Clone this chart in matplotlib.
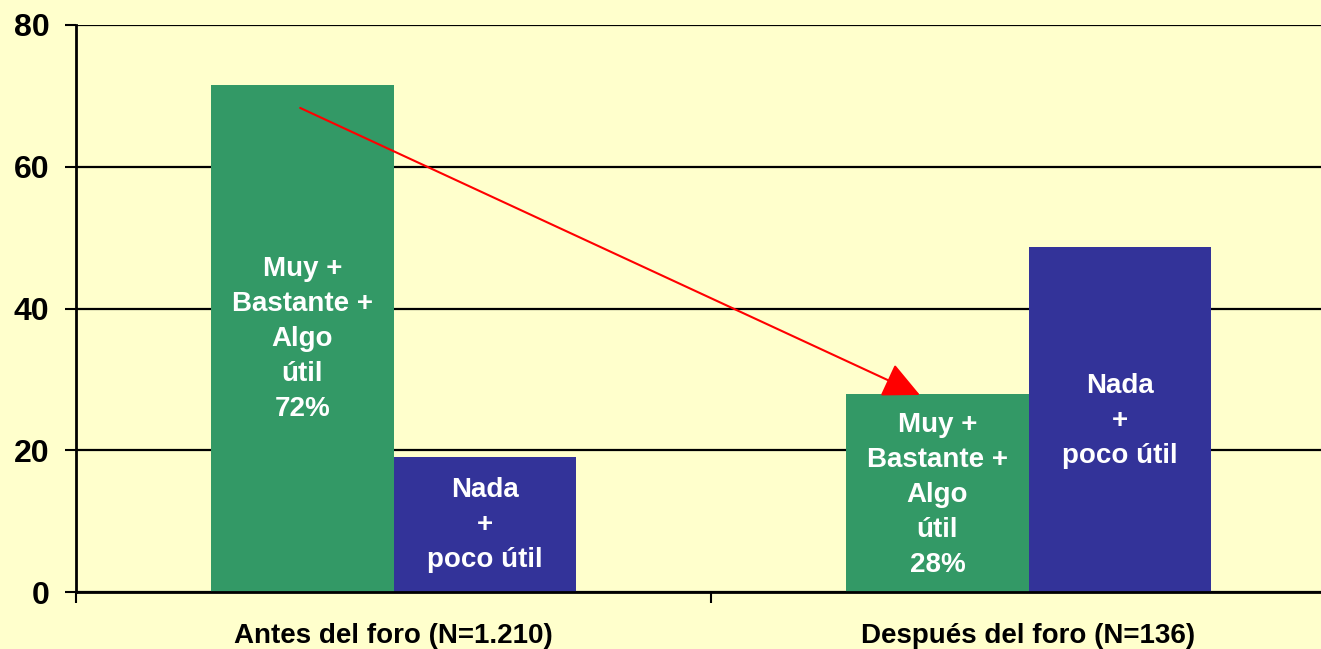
import matplotlib
matplotlib.use("Agg")
import matplotlib.pyplot as plt
import numpy as np

plt.rcParams['font.family'] = ['Liberation Sans', 'DejaVu Sans']

categories = ["Antes del foro (N=1.210)", "Después del foro (N=136)"]
util_values = [71.5, 28.0]
nada_values = [19.0, 48.7]
util_labels = ["Muy +\nBastante +\nAlgo\nútil\n72%", "Muy +\nBastante +\nAlgo\nútil\n28%"]
nada_labels = ["Nada\n+\npoco útil", "Nada\n+\npoco útil"]
yticks = [0, 20, 40, 60, 80]

bg = "#FFFFCC"
green = "#339966"
blue = "#333399"

fig = plt.figure(figsize=(13.21, 6.49), dpi=100, facecolor=bg)
ax = fig.add_axes([76/1321, 57/649, 1270/1321, 567/649])
ax.set_facecolor(bg)

centers = np.arange(len(categories)) + 0.5
w = 0.287
ax.bar(centers - w/2, util_values, width=w, color=green, zorder=2)
ax.bar(centers + w/2, nada_values, width=w, color=blue, zorder=2)

# text inside bars
util_text_y = [35.7, 13.7]
nada_text_y = [9.45, 24.1]
for i in range(len(categories)):
    ax.text(centers[i] - w/2, util_text_y[i], util_labels[i], ha='center', va='center',
            color='white', fontsize=20, fontweight='bold', linespacing=1.45, zorder=3)
    ax.text(centers[i] + w/2, nada_text_y[i], nada_labels[i], ha='center', va='center',
            color='white', fontsize=20, fontweight='bold', linespacing=1.45, zorder=3)

# red arrow
ax.annotate("", xy=(1.329, 27.8), xytext=(0.353, 68.3),
            arrowprops=dict(arrowstyle="-|>,head_length=2.3,head_width=1.1", color="#FF0000",
                            lw=1.5, shrinkA=0, shrinkB=0), zorder=4)

ax.set_xlim(0, 2)
ax.set_ylim(0, 80)
ax.set_yticks(yticks)
ax.set_yticklabels([str(v) for v in yticks], fontsize=23, fontweight='bold')
ax.yaxis.grid(True, color='black', linewidth=1.6, zorder=1)
ax.set_axisbelow(True)

ax.set_xticks([0, 1, 2])
ax.set_xticklabels([])
ax.set_xticks(centers, minor=True)
ax.set_xticklabels(categories, minor=True, fontsize=20, fontweight='bold')
ax.tick_params(axis='x', which='minor', length=0, pad=22)
ax.tick_params(axis='x', which='major', length=8, width=1.5, direction='out')
ax.tick_params(axis='y', length=8, width=1.5, direction='out', pad=11)

for s in ['top', 'right']:
    ax.spines[s].set_visible(False)
ax.spines['left'].set_linewidth(2)
ax.spines['bottom'].set_linewidth(2)

fig.savefig("out.png", dpi=100, facecolor=bg)
